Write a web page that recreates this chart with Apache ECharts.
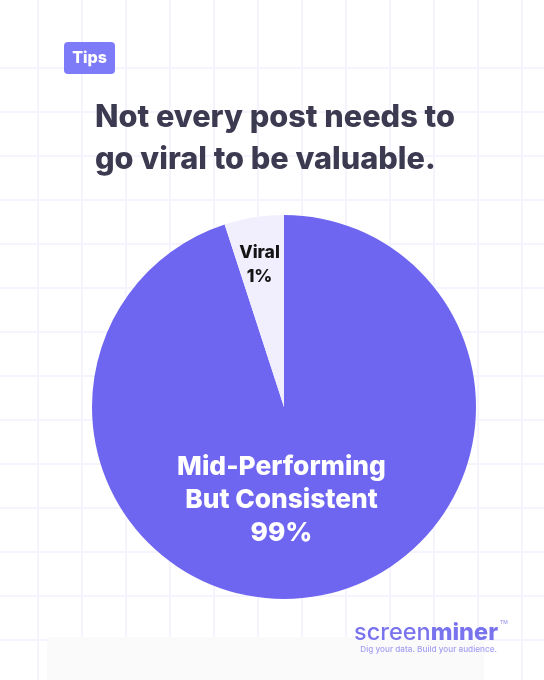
<!DOCTYPE html>
<html>
<head>
<meta charset="utf-8">
<script src="https://cdn.jsdelivr.net/npm/echarts@6/dist/echarts.min.js"></script>
<style>
html,body{margin:0;padding:0;width:544px;height:680px;overflow:hidden;background:#fff;}
#bg{position:absolute;left:0;top:0;width:544px;height:680px;
background-image:
linear-gradient(to right, #f4f3fe 0, #f4f3fe 2px, transparent 2px),
linear-gradient(to bottom, #f4f3fe 0, #f4f3fe 2px, transparent 2px);
background-size:44px 100%, 100% 44px;
background-position:37px 0, 0 67px;
background-repeat:repeat-x, repeat-y;}
#bg2{position:absolute;left:0;top:0;width:544px;height:67px;background:#fff;
background-image:linear-gradient(to right, #f4f3fe 0, #f4f3fe 2px, transparent 2px);
background-size:44px 100%;background-position:37px 0;background-repeat:repeat-x;}
#chart{position:absolute;left:0;top:0;width:544px;height:680px;}
</style>
</head>
<body>
<div id="bg"></div><div id="bg2"></div>
<div id="chart"></div>
<script>
const categories = ['Mid-Performing\nBut Consistent', 'Viral'];
const values = [95, 5];
const shownPercents = ['99%', '1%'];
const titleLines = ['Not every post needs to', 'go viral to be valuable.'];
const badgeText = 'Tips';
const brandLight = 'screen';
const brandBold = 'miner';
const tagline = 'Dig your data. Build your audience.';

const FONT = 'Inter, "Noto Sans", sans-serif';
const chart = echarts.init(document.getElementById('chart'));
const labelShift = [[-18, -5], [-9, -44]];

chart.setOption({
  animation: false,
  title: {
    text: titleLines.join('\n'),
    left: 95, top: 97, padding: 0,
    textStyle: {fontFamily: FONT, fontWeight: 800, fontSize: 30.7, lineHeight: 42, color: '#3c3a50'}
  },
  graphic: [
    {type: 'rect', shape: {x: 47, y: 637, width: 437, height: 43}, style: {fill: '#fafafb'}, z: 0},
    {type: 'rect', shape: {x: 64, y: 42, width: 51, height: 32, r: 4}, style: {fill: '#7d7bf7'}},
    {type: 'text', x: 89.5, y: 58, style: {text: badgeText, fill: '#fff', font: '800 16px ' + FONT, align: 'center', verticalAlign: 'middle'}},
    {type: 'text', x: 498, y: 633, style: {
      text: '{a|' + brandLight + '}{b|' + brandBold + '}', align: 'right', verticalAlign: 'middle',
      rich: {a: {fontFamily: FONT, fontSize: 23.5, fontWeight: 500, fill: '#7a73ee', color: '#7a73ee'},
             b: {fontFamily: FONT, fontSize: 23.5, fontWeight: 800, fill: '#7a73ee', color: '#7a73ee'}}
    }},
    {type: 'text', x: 500, y: 620, style: {text: 'TM', fill: '#8a84ee', font: '400 5px ' + FONT}},
    {type: 'text', x: 497, y: 650, style: {text: tagline, fill: '#a59ff2', font: '500 8.2px ' + FONT, align: 'right', verticalAlign: 'middle'}}
  ],
  series: [{
    type: 'pie',
    center: [284, 407],
    radius: [0, 192],
    startAngle: 90,
    clockwise: true,
    silent: true,
    label: {
      show: true, position: 'inside',
      formatter: p => categories[p.dataIndex] + '\n' + shownPercents[p.dataIndex]
    },
    labelLine: {show: false},
    labelLayout: p => ({dx: labelShift[p.dataIndex][0], dy: labelShift[p.dataIndex][1]}),
    data: values.map((v, i) => ({
      value: v,
      name: categories[i],
      itemStyle: {color: i === 0 ? '#6e66f0' : '#f1effd'},
      label: i === 0
        ? {color: '#ffffff', fontFamily: FONT, fontWeight: 800, fontSize: 26.3, lineHeight: 33}
        : {color: '#151515', fontFamily: FONT, fontWeight: 800, fontSize: 17.5, lineHeight: 24}
    }))
  }]
});
</script>
</body>
</html>
